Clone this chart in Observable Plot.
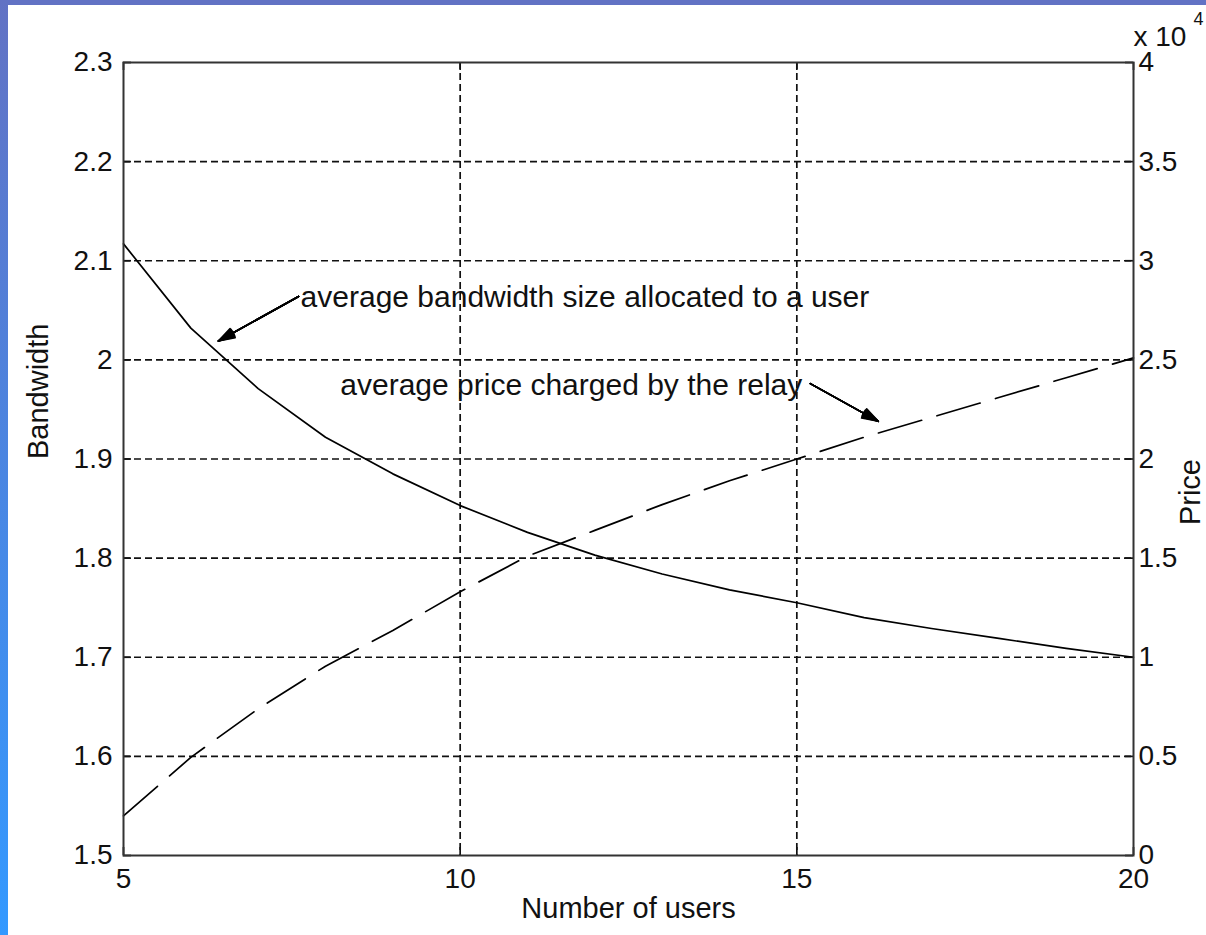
<!DOCTYPE html>
<html><head><meta charset="utf-8">
<script src="https://cdn.jsdelivr.net/npm/d3@7"></script>
<script src="https://cdn.jsdelivr.net/npm/@observablehq/plot@0.6"></script>
<style>
html,body{margin:0;padding:0;background:#fff;}
#wrap{position:relative;width:1206px;height:935px;overflow:hidden;background:#fff;}
#topbar{position:absolute;left:0;top:0;width:1206px;height:5px;background:#6272c4;}
#leftbar{position:absolute;left:0;top:0;width:8px;height:935px;background:linear-gradient(#6272c4,#3399ff);}
#chart{position:absolute;left:0;top:0;}
</style></head>
<body><div id="wrap"><div id="chart"></div><div id="topbar"></div><div id="leftbar"></div></div>
<script>
// ---- data ----
const users = [5,6,7,8,9,10,11,12,13,14,15,16,17,18,19,20];
const bandwidth = [2.117,2.032,1.971,1.922,1.885,1.853,1.826,1.803,1.784,1.768,1.755,1.740,1.729,1.719,1.709,1.700];
const price = [0.20,0.495,0.74,0.955,1.135,1.33,1.51,1.64,1.77,1.89,2.00,2.11,2.21,2.31,2.41,2.51]; // x 10^4
const xTicks = [5,10,15,20];
const bwTicks = [1.5,1.6,1.7,1.8,1.9,2,2.1,2.2,2.3];
const priceTicks = [0,0.5,1,1.5,2,2.5,3,3.5,4];
const annText = ["average bandwidth size allocated to a user","average price charged by the relay"];
const annX = [7.63, 8.22];
const annY = [2.063, 1.974];
const arrowFromX = [7.60, 15.20];
const arrowFromY = [2.064, 1.976];
const arrowToX = [6.41, 16.21];
const arrowToY = [2.019, 1.938];

// ---- helpers ----
const bwMin = 1.5, bwMax = 2.3, priceMax = 4;
const priceToBw = p => bwMin + p / priceMax * (bwMax - bwMin);
const rows = users.map((u, i) => ({u, bw: bandwidth[i], price: price[i]}));
const anns = annText.map((t, i) => ({t, x: annX[i], y: annY[i]}));
const arrows = arrowFromX.map((x1, i) => ({x1, y1: arrowFromY[i], x2: arrowToX[i], y2: arrowToY[i]}));
const fmt = d => String(+(+d).toFixed(2));

const W = 1206, H = 935, mL = 123, mR = 73, mT = 62, mB = 80;
const plotW = W - mL - mR, plotH = H - mT - mB;
const ink = "#111";

// layered arrowheads give a filled look
const headMarks = [6, 12, 18, 24, 30, 36].map(a =>
  Plot.arrow(arrows, {x1: "x1", y1: "y1", x2: "x2", y2: "y2", stroke: "#000", strokeWidth: 1.6,
    headLength: 16, headAngle: a}));

const chart = Plot.plot({
  width: W, height: H,
  marginLeft: mL, marginRight: mR, marginTop: mT, marginBottom: mB,
  style: {fontFamily: "'Liberation Sans', Arial, sans-serif", fontSize: "28px", color: ink, background: "transparent"},
  x: {domain: [5, 20]},
  y: {domain: [bwMin, bwMax]},
  marks: [
    Plot.ruleY(bwTicks.slice(1, -1), {stroke: ink, strokeWidth: 1.7, strokeDasharray: "7,4"}),
    Plot.ruleX(xTicks.slice(1, -1), {stroke: ink, strokeWidth: 1.7, strokeDasharray: "7,4"}),
    // inner ticks
    Plot.tickY(bwTicks, {y: d => d, stroke: ink, strokeWidth: 1.7, insetRight: plotW - 8}),
    Plot.tickY(priceTicks, {y: d => priceToBw(d), stroke: ink, strokeWidth: 1.7, insetLeft: plotW - 8}),
    Plot.tickX(xTicks, {x: d => d, stroke: ink, strokeWidth: 1.7, insetTop: plotH - 8}),
    Plot.tickX(xTicks, {x: d => d, stroke: ink, strokeWidth: 1.7, insetBottom: plotH - 8}),
    Plot.line(rows, {x: "u", y: "bw", stroke: "#000", strokeWidth: 1.7}),
    Plot.line(rows, {x: "u", y: d => priceToBw(d.price), stroke: "#000", strokeWidth: 1.7, strokeDasharray: "45,16"}),
    Plot.frame({stroke: "#333", strokeWidth: 2}),
    Plot.axisY({anchor: "left", ticks: bwTicks, tickSize: 0, tickPadding: 11, tickFormat: fmt, label: null}),
    Plot.axisY({anchor: "right", ticks: priceTicks.map(priceToBw), tickSize: 0, tickPadding: 5,
      tickFormat: d => fmt((d - bwMin) / (bwMax - bwMin) * priceMax), label: null}),
    Plot.axisX({ticks: xTicks, tickSize: 0, tickPadding: 13, tickFormat: fmt, label: null}),
    Plot.text(["Number of users"], {frameAnchor: "bottom", dy: 62, fontSize: 29, fill: ink}),
    Plot.text(["Bandwidth"], {frameAnchor: "left", dx: -85, rotate: -90, fontSize: 29, fill: ink}),
    Plot.text(["Price"], {frameAnchor: "right", dx: 57, rotate: -90, fontSize: 29, fill: ink}),
    Plot.text(["x 10"], {frameAnchor: "top-right", dy: -36, textAnchor: "start", fontSize: 28, fill: ink}),
    Plot.text(["4"], {frameAnchor: "top-right", dx: 60, dy: -50, textAnchor: "start", fontSize: 18, fill: ink}),
    ...headMarks,
    Plot.text(anns, {x: "x", y: "y", text: "t", textAnchor: "start", fontSize: 30, fill: ink})
  ]
});
document.getElementById("chart").append(chart);
</script>
</body></html>
